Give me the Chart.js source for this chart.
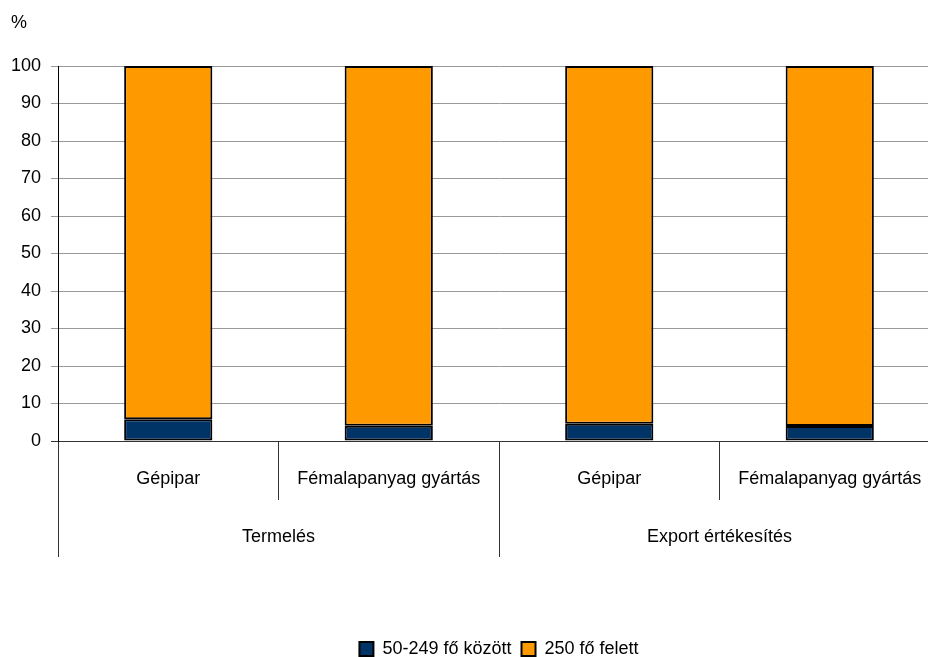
<!DOCTYPE html>
<html>
<head>
<meta charset="utf-8">
<script src="https://cdn.jsdelivr.net/npm/chart.js@4/dist/chart.umd.min.js"></script>
<style>
  html, body { margin: 0; padding: 0; background: #fff; overflow: hidden; }
  /* a rajzterület jobb széle kilóg a képből, mint az eredetin */
  #wrap { width: 940px; height: 657px; }
</style>
</head>
<body>
<div id="wrap"><canvas id="chart"></canvas></div>
<script>
// Adatok
const categories = ['Gépipar', 'Fémalapanyag gyártás', 'Gépipar', 'Fémalapanyag gyártás'];
const groups = ['Termelés', 'Export értékesítés'];
const seriesNames = ['50-249 fő között', '250 fő felett'];
const medium = [5.8, 4.1, 4.6, 4.0];
const large = [94.2, 95.9, 95.4, 96.0];
const yTicks = [0, 10, 20, 30, 40, 50, 60, 70, 80, 90, 100];
const unitLabel = '%';

const font = { family: "'Liberation Sans', Arial, sans-serif", size: 18 };

// a "%" felirat a tengely fölött
const unitPlugin = {
    id: 'unitLabel',
    afterDraw(chart) {
        const ctx = chart.ctx;
        ctx.save();
        ctx.font = font.size + 'px ' + font.family;
        ctx.fillStyle = '#000';
        ctx.textAlign = 'left';
        ctx.textBaseline = 'middle';
        ctx.fillText(unitLabel, 11, 23);
        ctx.restore();
    }
};

const config = {
    type: 'bar',
    data: {
        labels: categories,
        datasets: [
            {
                label: seriesNames[0],
                data: medium,
                backgroundColor: '#003366',
                borderColor: '#000',
                borderWidth: 2,
                borderSkipped: false,
                categoryPercentage: 1,
                barPercentage: 0.4
            },
            {
                label: seriesNames[1],
                data: large,
                backgroundColor: '#FF9900',
                borderColor: '#000',
                borderWidth: 2,
                borderSkipped: false,
                categoryPercentage: 1,
                barPercentage: 0.4
            }
        ]
    },
    options: {
        responsive: true,
        maintainAspectRatio: false,
        animation: false,
        layout: { padding: { left: 0, right: 0, top: 66, bottom: -11 } },
        scales: {
            x: {
                stacked: true,
                position: 'bottom',
                border: { display: true, color: '#333', width: 1 },
                grid: {
                    offset: true,
                    drawOnChartArea: false,
                    tickLength: 59,
                    color: '#333'
                },
                ticks: { font: font, color: '#000', padding: -32, maxRotation: 0 },
                afterFit: function (scale) { scale.height = 59; }
            },
            x2: {
                type: 'category',
                labels: groups,
                position: 'bottom',
                offset: true,
                border: { display: false },
                grid: {
                    offset: true,
                    drawOnChartArea: false,
                    tickLength: 57,
                    color: '#333'
                },
                ticks: { font: font, color: '#000', padding: -31, maxRotation: 0 },
                afterFit: function (scale) { scale.height = 130; }
            },
            y: {
                stacked: true,
                min: 0,
                max: 100,
                afterBuildTicks: function (scale) {
                    scale.ticks = yTicks.map(v => ({ value: v }));
                },
                border: { display: true, color: '#000', width: 1 },
                grid: {
                    color: function (ctx) { return ctx.tick && ctx.tick.value === 0 ? '#333' : '#999'; },
                    tickLength: 7
                },
                ticks: { font: font, color: '#000', padding: 10 },
                afterFit: function (scale) { scale.width = 58; }
            }
        },
        plugins: {
            title: { display: false },
            legend: {
                position: 'bottom',
                fullSize: false,
                labels: {
                    font: font,
                    color: '#000',
                    boxWidth: 14,
                    boxHeight: 14,
                    padding: 10,
                    useBorderRadius: false
                }
            },
            tooltip: { enabled: false }
        }
    },
    plugins: [unitPlugin]
};

const chart = new Chart(document.getElementById('chart'), config);
</script>
</body>
</html>
